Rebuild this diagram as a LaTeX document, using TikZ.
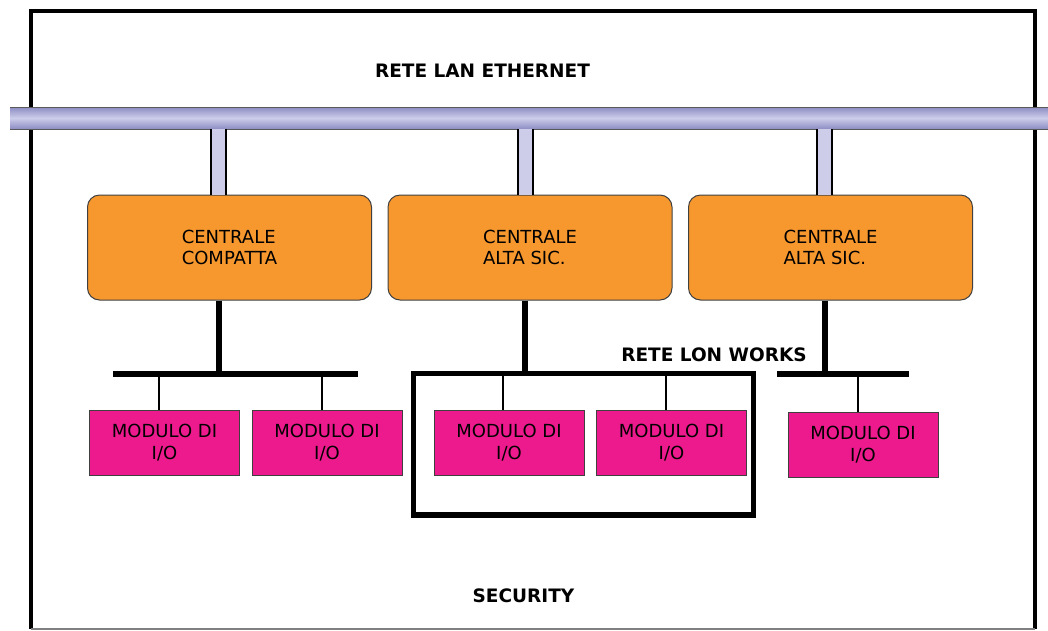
\documentclass[tikz,border=0pt]{standalone}
\usepackage{fontspec}
\setmainfont{DejaVu Sans}
\definecolor{boxorange}{HTML}{F7982F}
\definecolor{iomagenta}{HTML}{EC1A8C}
\definecolor{lanlight}{HTML}{CDCDEA}
\definecolor{landark}{HTML}{8C8CC4}
\begin{document}
\begin{tikzpicture}[x=1pt,y=-1pt,
  frame/.style={line width=4pt,black,line join=miter},
  centrale/.style={draw=black!75,line width=1pt,fill=boxorange,rounded corners=12pt,
    minimum width=284pt,minimum height=105pt,inner sep=0pt,align=left,
    font=\fontsize{18}{20.5}\selectfont},
  modulo/.style={draw=black!75,line width=1pt,fill=iomagenta,
    minimum width=150pt,minimum height=65pt,inner sep=0pt,align=center,
    font=\fontsize{18}{21.5}\selectfont},
  title/.style={inner sep=0pt,font=\bfseries\fontsize{18.5}{22}\selectfont},
  stub/.style={draw=black,line width=2pt,double=lanlight,double distance=13pt},
  downline/.style={line width=5.5pt},
  lonbus/.style={line width=6pt},
  tap/.style={line width=1.8pt},
  lonbox/.style={draw,line width=5.5pt,minimum width=340pt,minimum height=141.5pt,inner sep=0pt}]
\useasboundingbox (0,0) rectangle (1048,630);

% outer frame
\draw[frame] (31,629) -- (31,10.5) -- (1034.5,10.5) -- (1034.5,629);
\draw[gray,line width=1.5pt] (31,629) -- (1034.5,629);

% Ethernet backbone
\shade[top color=landark,bottom color=landark,middle color=lanlight] (10,107) rectangle (1048,129);
\draw[black!65,line width=1pt] (10,107) -- (1048,107) (10,129) -- (1048,129);

\node[title] (lan) at (482.5,70.5) {RETE LAN ETHERNET};

% control panels
\node[centrale] (c1) at (229.5,247.5) {CENTRALE\\COMPATTA};
\node[centrale] (c2) at (530,247.5) {CENTRALE\\ALTA SIC.};
\node[centrale] (c3) at (830.5,247.5) {CENTRALE\\ALTA SIC.};

% backbone taps
\coordinate (t1) at (218,129);
\coordinate (t2) at (525,129);
\coordinate (t3) at (824.5,129);
\draw[stub] (t1) -- (t1 |- c1.north);
\draw[stub] (t2) -- (t2 |- c2.north);
\draw[stub] (t3) -- (t3 |- c3.north);

% field buses
\coordinate (b1w) at (113,373.5);
\coordinate (b1e) at (358,373.5);
\coordinate (b3w) at (777,374);
\coordinate (b3e) at (909,374);
\node[lonbox] (lon) at (583.5,444.25) {};
\draw[lonbus] (b1w) -- (b1e);
\draw[lonbus] (b3w) -- (b3e);

\draw[downline] ([xshift=-10.5pt]c1.south) -- ([xshift=-10.5pt]c1.south |- b1w);
\draw[downline] ([xshift=-5pt]c2.south) -- ([xshift=-5pt]c2.south |- lon.north);
\draw[downline] ([xshift=-5.5pt]c3.south) -- ([xshift=-5.5pt]c3.south |- b3w);

\node[title] (lonlabel) at (714,355) {RETE LON WORKS};

% I/O modules
\node[modulo] (m1) at (164.5,442.5) {MODULO DI\\I/O};
\node[modulo] (m2) at (327,442.5) {MODULO DI\\I/O};
\node[modulo] (m3) at (509,442.5) {MODULO DI\\I/O};
\node[modulo] (m4) at (671.5,442.5) {MODULO DI\\I/O};
\node[modulo] (m5) at (863,444.5) {MODULO DI\\I/O};

\draw[tap] ([xshift=-5.5pt]m1.north) -- ([xshift=-5.5pt]m1.north |- b1w);
\draw[tap] ([xshift=-5pt]m2.north) -- ([xshift=-5pt]m2.north |- b1w);
\draw[tap] ([xshift=-6pt]m3.north) -- ([xshift=-6pt]m3.north |- lon.north);
\draw[tap] ([xshift=-5.5pt]m4.north) -- ([xshift=-5.5pt]m4.north |- lon.north);
\draw[tap] ([xshift=-5pt]m5.north) -- ([xshift=-5pt]m5.north |- b3w);

\node[title] (sec) at (523.5,596) {SECURITY};
\end{tikzpicture}
\end{document}
